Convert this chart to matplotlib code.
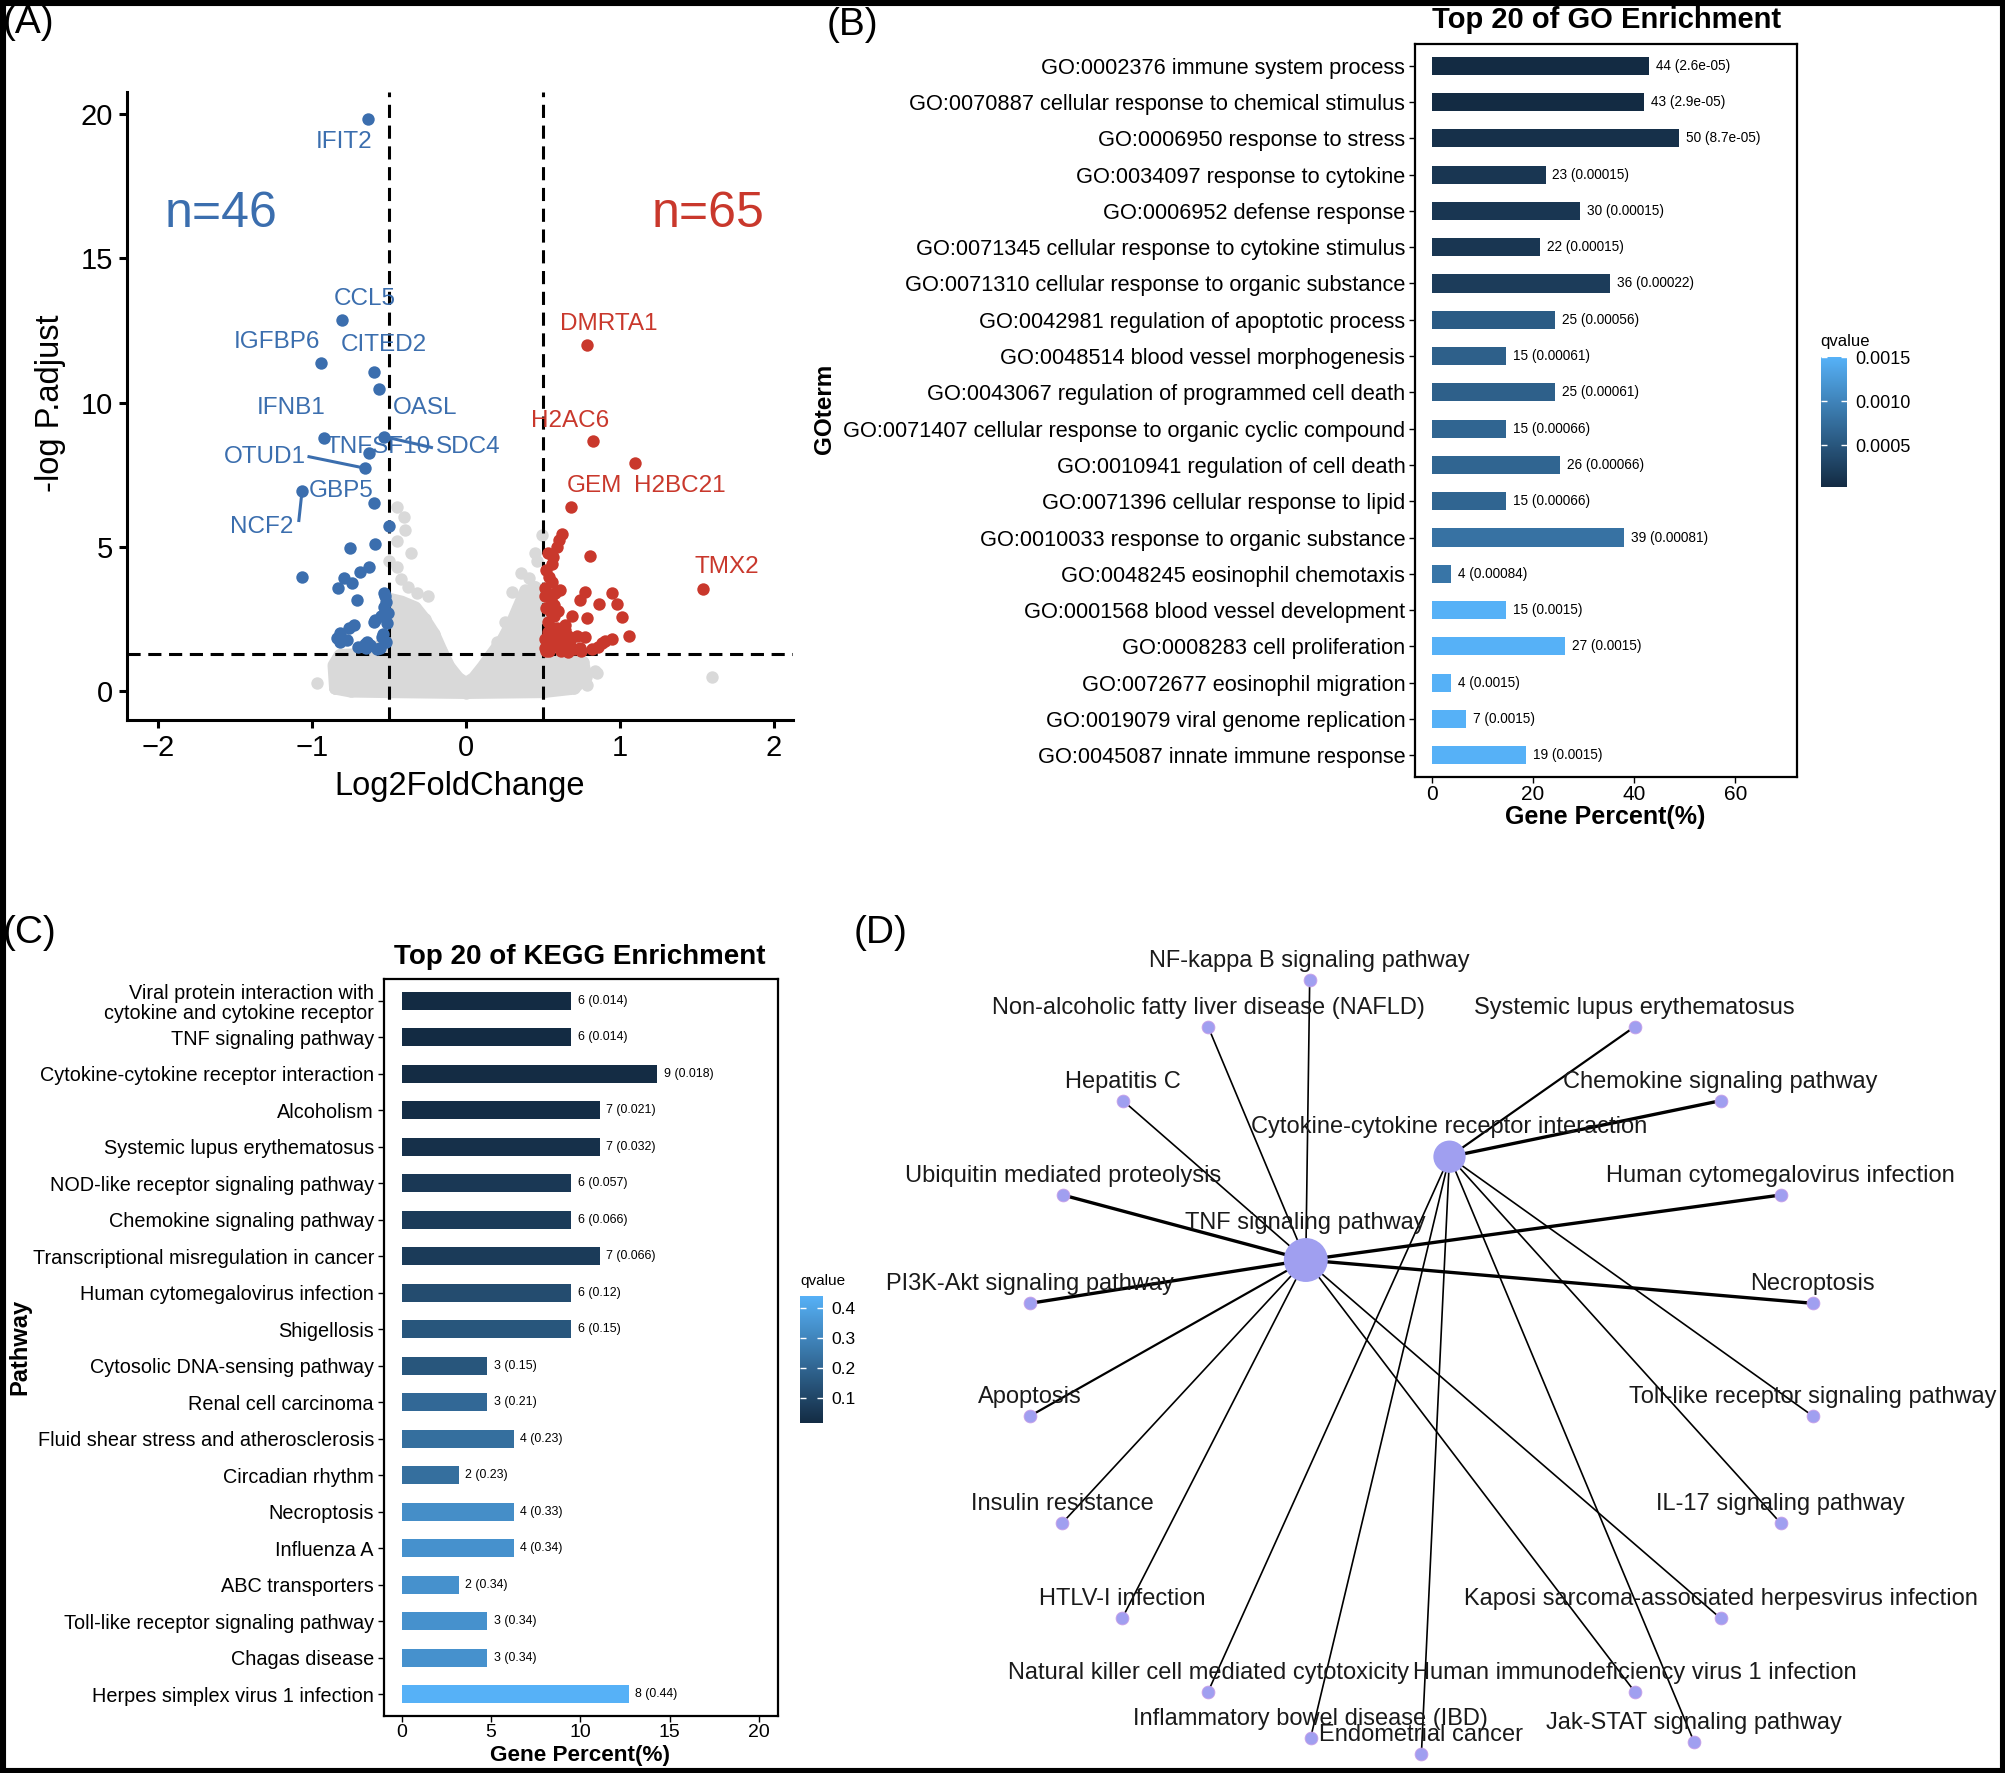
import matplotlib
matplotlib.use('Agg')
import numpy as np
import matplotlib.pyplot as plt
from matplotlib.colors import LinearSegmentedColormap, Normalize
from matplotlib.cm import ScalarMappable
from matplotlib.patches import Rectangle

plt.rcParams['font.family'] = ['Liberation Sans', 'DejaVu Sans']

W, H = 2005, 1773

# ---------------- data: (A) volcano ----------------
down_x = [-0.64, -0.805, -0.94, -0.60, -0.567, -0.926, -0.536, -0.633, -0.655, -1.066,
          -0.60, -0.503, -0.59, -0.757, -1.066, -0.633, -0.687, -0.796, -0.741, -0.834,
          -0.709, -0.536, -0.536, -0.59, -0.731, -0.514, -0.817, -0.774, -0.644, -0.546,
          -0.817, -0.622, -0.52, -0.55, -0.56, -0.65, -0.84, -0.76, -0.52, -0.54,
          -0.60, -0.53, -0.70, -0.66, -0.51, -0.58]
down_y = [19.82, 12.86, 11.39, 11.05, 10.49, 8.77, 8.83, 8.25, 7.73, 6.95,
          6.54, 5.74, 5.11, 4.96, 3.95, 4.30, 4.15, 3.92, 3.74, 3.57,
          3.16, 3.40, 2.93, 2.47, 2.30, 2.36, 2.01, 1.78, 1.72, 1.89,
          1.72, 1.60, 3.10, 2.60, 1.50, 1.50, 1.85, 2.20, 1.70, 2.00,
          2.40, 3.30, 1.55, 1.65, 2.70, 1.45]

up_x = [0.785, 0.828, 1.099, 0.681, 1.543, 0.623, 0.601, 0.59, 0.807, 0.568,
        0.557, 0.536, 0.514, 0.612, 0.774, 0.948, 0.861, 0.742, 0.98, 0.55,
        1.013, 0.785, 0.57, 1.056, 0.948, 0.883, 0.774, 0.644, 0.55, 0.677,
        0.55, 0.74, 0.63, 0.51, 0.68, 0.52, 0.53, 0.60, 0.58, 0.72,
        0.82, 0.52, 0.56, 0.51, 0.60, 0.54, 0.70, 0.62, 0.66, 0.57,
        0.53, 0.64, 0.59, 0.51, 0.56, 0.86, 0.69, 0.52, 0.61, 0.55,
        0.75, 0.58, 0.66, 0.53, 0.90]
up_y = [11.99, 8.68, 7.90, 6.40, 3.53, 5.45, 5.24, 5.01, 4.69, 4.67,
        4.40, 3.97, 3.57, 3.51, 3.45, 3.40, 3.03, 3.16, 3.03, 3.20,
        2.56, 2.53, 2.60, 1.92, 1.80, 1.66, 1.89, 2.12, 2.20, 1.78,
        1.80, 1.50, 1.60, 1.50, 1.50, 2.90, 2.40, 2.00, 1.60, 1.90,
        1.45, 4.20, 3.80, 3.30, 2.80, 1.40, 1.45, 1.40, 1.90, 3.00,
        4.80, 2.30, 2.20, 1.80, 1.60, 1.55, 2.60, 1.40, 1.70, 2.75,
        1.40, 3.40, 1.35, 2.05, 1.75]

# outline of the dense non-significant cloud
ns_env_x = [-0.85, -0.86, -0.82, -0.60, -0.50, -0.50, -0.42, -0.33, -0.27, -0.21,
            -0.16, -0.11, -0.05, 0.0, 0.05, 0.11, 0.17, 0.24, 0.30, 0.34,
            0.38, 0.45, 0.50, 0.50, 0.62, 0.76, 0.78, 0.70, 0.50, 0.0,
            -0.50, -0.75]
ns_env_y = [0.10, 0.90, 1.25, 1.30, 2.00, 3.20, 3.10, 2.90, 2.50, 2.00,
            1.40, 0.85, 0.45, 0.28, 0.45, 0.85, 1.30, 1.80, 2.40, 2.90,
            3.40, 3.60, 3.30, 1.50, 1.30, 1.00, 0.50, 0.10, -0.02, -0.05,
            -0.02, 0.0]
# scattered non-significant genes
ns_x = [-0.449, -0.406, -0.395, -0.449, -0.36, -0.50, -0.45, -0.38, -0.32, -0.42,
        0.493, 0.45, 0.46, 0.406, 0.298, 0.38, 0.43, 0.25, 0.20, -0.969,
        -0.85, 0.785, 0.85, 1.597, 0.835, -0.25, 0.36]
ns_y = [6.40, 6.05, 5.59, 5.20, 4.78, 4.50, 4.30, 3.63, 3.40, 3.90,
        5.42, 4.78, 4.50, 3.92, 3.45, 3.50, 3.20, 2.40, 1.70, 0.28,
        0.10, 0.22, 0.62, 0.49, 0.71, 3.30, 4.10]

# ---------------- data: (B) GO ----------------
go_terms = ['GO:0002376 immune system process',
            'GO:0070887 cellular response to chemical stimulus',
            'GO:0006950 response to stress',
            'GO:0034097 response to cytokine',
            'GO:0006952 defense response',
            'GO:0071345 cellular response to cytokine stimulus',
            'GO:0071310 cellular response to organic substance',
            'GO:0042981 regulation of apoptotic process',
            'GO:0048514 blood vessel morphogenesis',
            'GO:0043067 regulation of programmed cell death',
            'GO:0071407 cellular response to organic cyclic compound',
            'GO:0010941 regulation of cell death',
            'GO:0071396 cellular response to lipid',
            'GO:0010033 response to organic substance',
            'GO:0048245 eosinophil chemotaxis',
            'GO:0001568 blood vessel development',
            'GO:0008283 cell proliferation',
            'GO:0072677 eosinophil migration',
            'GO:0019079 viral genome replication',
            'GO:0045087 innate immune response']
go_count = [44, 43, 50, 23, 30, 22, 36, 25, 15, 25, 15, 26, 15, 39, 4, 15, 27, 4, 7, 19]
go_percent = [43.0, 42.0, 48.8, 22.5, 29.3, 21.5, 35.2, 24.4, 14.6, 24.4,
              14.6, 25.4, 14.6, 38.1, 3.9, 14.6, 26.4, 3.9, 6.8, 18.6]
go_q = [2.6e-05, 2.9e-05, 8.7e-05, 0.00015, 0.00015, 0.00015, 0.00022, 0.00056, 0.00061, 0.00061,
        0.00066, 0.00066, 0.00066, 0.00081, 0.00084, 0.0015, 0.0015, 0.0015, 0.0015, 0.0015]

# ---------------- data: (C) KEGG ----------------
kegg_terms = ['Viral protein interaction with\ncytokine and cytokine receptor',
              'TNF signaling pathway',
              'Cytokine-cytokine receptor interaction',
              'Alcoholism',
              'Systemic lupus erythematosus',
              'NOD-like receptor signaling pathway',
              'Chemokine signaling pathway',
              'Transcriptional misregulation in cancer',
              'Human cytomegalovirus infection',
              'Shigellosis',
              'Cytosolic DNA-sensing pathway',
              'Renal cell carcinoma',
              'Fluid shear stress and atherosclerosis',
              'Circadian rhythm',
              'Necroptosis',
              'Influenza A',
              'ABC transporters',
              'Toll-like receptor signaling pathway',
              'Chagas disease',
              'Herpes simplex virus 1 infection']
kegg_count = [6, 6, 9, 7, 7, 6, 6, 7, 6, 6, 3, 3, 4, 2, 4, 4, 2, 3, 3, 8]
kegg_percent = [9.5, 9.5, 14.3, 11.1, 11.1, 9.5, 9.5, 11.1, 9.5, 9.5,
                4.8, 4.8, 6.3, 3.2, 6.3, 6.3, 3.2, 4.8, 4.8, 12.7]
kegg_q = [0.014, 0.014, 0.018, 0.021, 0.032, 0.057, 0.066, 0.066, 0.12, 0.15,
          0.15, 0.21, 0.23, 0.23, 0.33, 0.34, 0.34, 0.34, 0.34, 0.44]

# ---------------- data: (D) network ----------------
hub_names = ['TNF signaling pathway', 'Cytokine-cytokine receptor interaction']
hub_x = [1305.8, 1449.5]
hub_y = [1260.0, 1156.7]
leaf_names = ['NF-kappa B signaling pathway', 'Non-alcoholic fatty liver disease (NAFLD)',
              'Systemic lupus erythematosus', 'Hepatitis C', 'Chemokine signaling pathway',
              'Ubiquitin mediated proteolysis', 'Human cytomegalovirus infection',
              'PI3K-Akt signaling pathway', 'Necroptosis', 'Apoptosis',
              'Toll-like receptor signaling pathway', 'Insulin resistance',
              'IL-17 signaling pathway', 'HTLV-I infection',
              'Kaposi sarcoma-associated herpesvirus infection',
              'Natural killer cell mediated cytotoxicity',
              'Human immunodeficiency virus 1 infection',
              'Inflammatory bowel disease (IBD)', 'Endometrial cancer',
              'Jak-STAT signaling pathway']
leaf_x = [1309.7, 1208.1, 1634.7, 1123.0, 1720.6, 1062.8, 1780.8, 1030.0, 1812.8, 1030.0,
          1812.8, 1062.0, 1780.8, 1122.2, 1720.6, 1208.1, 1634.7, 1310.5, 1421.4, 1694.0]
leaf_y = [980.0, 1026.7, 1026.7, 1100.7, 1100.7, 1195.0, 1195.0, 1303.3, 1303.3, 1416.0,
          1416.0, 1523.3, 1523.3, 1618.3, 1618.3, 1691.7, 1691.7, 1738.3, 1754.0, 1741.7]
# which hub each leaf hangs on (0 = TNF, 1 = cytokine)
leaf_hub = [0, 0, 1, 0, 1, 0, 0, 0, 0, 0, 1, 0, 1, 0, 0, 1, 0, 1, 1, 1]
edge_width = [1.2, 1.2, 1.6, 1.2, 2.4, 2.4, 2.4, 2.4, 2.4, 1.6,
              1.2, 1.2, 1.2, 1.2, 1.2, 1.2, 1.2, 1.2, 1.2, 1.2]

BLUE = '#3b6eae'
RED = '#c9382c'
GREY = '#d9d9d9'
cmap = LinearSegmentedColormap.from_list('gg', ['#132B43', '#56B1F7'])


def box(l, t, r, b):
    return [l / W, 1 - b / H, (r - l) / W, (b - t) / H]


def fx(px):
    return px / W


def fy(py):
    return 1 - py / H


fig = plt.figure(figsize=(W / 100, H / 100), dpi=100)

# ======================= (A) =======================
axA = fig.add_axes(box(127, 92, 793, 720))
axA.fill(ns_env_x, ns_env_y, facecolor=GREY, edgecolor=GREY, lw=9, joinstyle='round', zorder=1)
axA.scatter(ns_env_x + ns_x, ns_env_y + ns_y, s=80, color=GREY, lw=0, zorder=2)
axA.scatter(down_x, down_y, s=80, color=BLUE, lw=0, zorder=4)
axA.scatter(up_x, up_y, s=80, color=RED, lw=0, zorder=4)

dash = (0, (4.3, 2.5))
axA.axvline(-0.5, color='black', lw=2.2, ls=dash, zorder=3)
axA.axvline(0.5, color='black', lw=2.2, ls=dash, zorder=3)
axA.axhline(-np.log10(0.05), color='black', lw=2.2, ls=dash, zorder=3)

axA.set_xlim(-2.204, 2.125)
axA.set_ylim(-0.995, 20.77)
axA.set_xticks([-2, -1, 0, 1, 2])
axA.set_yticks([0, 5, 10, 15, 20])
for s in ['top', 'right']:
    axA.spines[s].set_visible(False)
for s in ['left', 'bottom']:
    axA.spines[s].set_linewidth(2.2)
axA.tick_params(labelsize=21, length=6, width=2.2, pad=4, colors='black')

gene_labels = [('IFIT2', -0.795, 19.04, BLUE), ('CCL5', -0.656, 13.6, BLUE),
               ('IGFBP6', -1.229, 12.11, BLUE), ('CITED2', -0.534, 11.99, BLUE),
               ('IFNB1', -1.137, 9.81, BLUE), ('OASL', -0.265, 9.81, BLUE),
               ('TNFSF10', -0.573, 8.45, BLUE), ('SDC4', 0.013, 8.45, BLUE),
               ('OTUD1', -1.309, 8.13, BLUE), ('GBP5', -0.812, 6.95, BLUE),
               ('NCF2', -1.326, 5.69, BLUE), ('DMRTA1', 0.925, 12.73, RED),
               ('H2AC6', 0.679, 9.37, RED), ('GEM', 0.835, 7.13, RED),
               ('H2BC21', 1.392, 7.13, RED), ('TMX2', 1.697, 4.30, RED)]
for txt, x, y, c in gene_labels:
    axA.text(x, y, txt, color=c, fontsize=17.5, ha='center', va='center', zorder=5)
for (x0, y0), (x1, y1) in [((-1.021, 8.13), (-0.655, 7.73)),
                           ((-0.536, 8.83), (-0.225, 8.45)),
                           ((-1.066, 6.95), (-1.087, 5.92))]:
    axA.plot([x0, x1], [y0, y1], color=BLUE, lw=2.2, zorder=5)
axA.text(-1.594, 16.53, 'n=%d' % len(down_x), color=BLUE, fontsize=36, ha='center', va='center')
axA.text(1.574, 16.53, 'n=%d' % len(up_x), color=RED, fontsize=36, ha='center', va='center')
fig.text(fx(460), fy(787), 'Log2FoldChange', fontsize=23.5, ha='center', va='center')
fig.text(fx(51), fy(403), '-log P.adjust', fontsize=23.5, rotation=90, ha='center', va='center')

# ======================= (B) =======================
normB = Normalize(min(go_q), max(go_q))
axB = fig.add_axes(box(1415, 44, 1797, 777))
yB = np.arange(len(go_terms))
axB.barh(yB, go_percent, height=0.5, color=cmap(normB(go_q)))
for i in range(len(go_terms)):
    axB.annotate('%d (%g)' % (go_count[i], go_q[i]), (go_percent[i], i), xytext=(5, 0),
                 textcoords='offset points', ha='left', va='center', fontsize=9.8)
axB.set_ylim(len(go_terms) - 0.4, -0.6)
axB.set_xlim(-3.3, 72.2)
axB.set_xticks([0, 20, 40, 60])
axB.set_yticks(yB)
axB.set_yticklabels(go_terms, fontsize=15.7)
axB.tick_params(axis='x', labelsize=15, length=4, width=1, pad=2)
axB.tick_params(axis='y', length=4, width=1, pad=3)
for s in axB.spines.values():
    s.set_linewidth(1.6)
fig.text(fx(1607), fy(20), 'Top 20 of GO Enrichment', fontsize=21, fontweight='bold', ha='center', va='center')
fig.text(fx(1605), fy(817), 'Gene Percent(%)', fontsize=18, fontweight='bold', ha='center', va='center')
fig.text(fx(825), fy(409), 'GOterm', fontsize=17.5, fontweight='bold', rotation=90, ha='center', va='center')

caxB = fig.add_axes(box(1820.7, 357, 1846.7, 487))
cbB = fig.colorbar(ScalarMappable(normB, cmap), cax=caxB)
cbB.outline.set_visible(False)
cbB.set_ticks([0.0005, 0.0010, 0.0015])
cbB.set_ticklabels(['0.0005', '0.0010', '0.0015'])
caxB.tick_params(labelsize=13, length=4, width=1, color='white', direction='in', left=True, pad=6)
fig.text(fx(1820.7), fy(341.7), 'qvalue', fontsize=12, ha='left', va='center')

# ======================= (C) =======================
normC = Normalize(min(kegg_q), max(kegg_q))
axC = fig.add_axes(box(383.7, 979, 778, 1716))
yC = np.arange(len(kegg_terms))
axC.barh(yC, kegg_percent, height=0.5, color=cmap(normC(kegg_q)))
for i in range(len(kegg_terms)):
    axC.annotate('%d (%g)' % (kegg_count[i], kegg_q[i]), (kegg_percent[i], i), xytext=(4.5, 0),
                 textcoords='offset points', ha='left', va='center', fontsize=8.9)
axC.set_ylim(len(kegg_terms) - 0.4, -0.6)
axC.set_xlim(-1.0, 21.05)
axC.set_xticks([0, 5, 10, 15, 20])
axC.set_yticks(yC)
axC.set_yticklabels(kegg_terms, fontsize=14.3, linespacing=1.1)
axC.tick_params(axis='x', labelsize=14, length=4, width=1, pad=2)
axC.tick_params(axis='y', length=4, width=1, pad=3)
for s in axC.spines.values():
    s.set_linewidth(1.6)
fig.text(fx(580), fy(957), 'Top 20 of KEGG Enrichment', fontsize=20, fontweight='bold', ha='center', va='center')
fig.text(fx(580), fy(1755), 'Gene Percent(%)', fontsize=16.2, fontweight='bold', ha='center', va='center')
fig.text(fx(20), fy(1347), 'Pathway', fontsize=17, fontweight='bold', rotation=90, ha='center', va='center')

caxC = fig.add_axes(box(800, 1295.7, 823.3, 1423.3))
cbC = fig.colorbar(ScalarMappable(normC, cmap), cax=caxC)
cbC.outline.set_visible(False)
cbC.set_ticks([0.1, 0.2, 0.3, 0.4])
caxC.tick_params(labelsize=12.5, length=4, width=1, color='white', direction='in', left=True, pad=6)
fig.text(fx(800), fy(1281), 'qvalue', fontsize=11, ha='left', va='center')

# ======================= (D) =======================
axD = fig.add_axes(box(780, 880, 2005, 1773))
axD.set_xlim(780, 2005)
axD.set_ylim(1773, 880)
axD.axis('off')
for i in range(len(leaf_names)):
    h = leaf_hub[i]
    axD.plot([hub_x[h], leaf_x[i]], [hub_y[h], leaf_y[i]], color='black', lw=edge_width[i], zorder=1)
axD.scatter(leaf_x, leaf_y, s=85, color='#a09ff0', edgecolor='#c9a0e8', lw=0.6, zorder=2)
axD.scatter(hub_x, hub_y, s=[1000, 540], color='#a09ff0', lw=0, zorder=2)
for i in range(len(leaf_names)):
    axD.text(leaf_x[i], leaf_y[i] - 19, leaf_names[i], fontsize=17, ha='center', va='center',
             color='#1a1a1a', zorder=3)
axD.text(hub_x[0], hub_y[0] - 37, hub_names[0], fontsize=17, ha='center', va='center', color='#1a1a1a', zorder=3)
axD.text(hub_x[1], hub_y[1] - 30, hub_names[1], fontsize=17, ha='center', va='center', color='#1a1a1a', zorder=3)

# panel tags
fig.text(fx(3), fy(23), '(A)', fontsize=28, ha='left', va='center')
fig.text(fx(827), fy(25), '(B)', fontsize=28, ha='left', va='center')
fig.text(fx(3), fy(933), '(C)', fontsize=28, ha='left', va='center')
fig.text(fx(854), fy(933), '(D)', fontsize=28, ha='left', va='center')

fig.patches.append(Rectangle((0, 0), 1, 1, transform=fig.transFigure, fill=False,
                             edgecolor='black', lw=8))

plt.savefig('out.png', dpi=100)
